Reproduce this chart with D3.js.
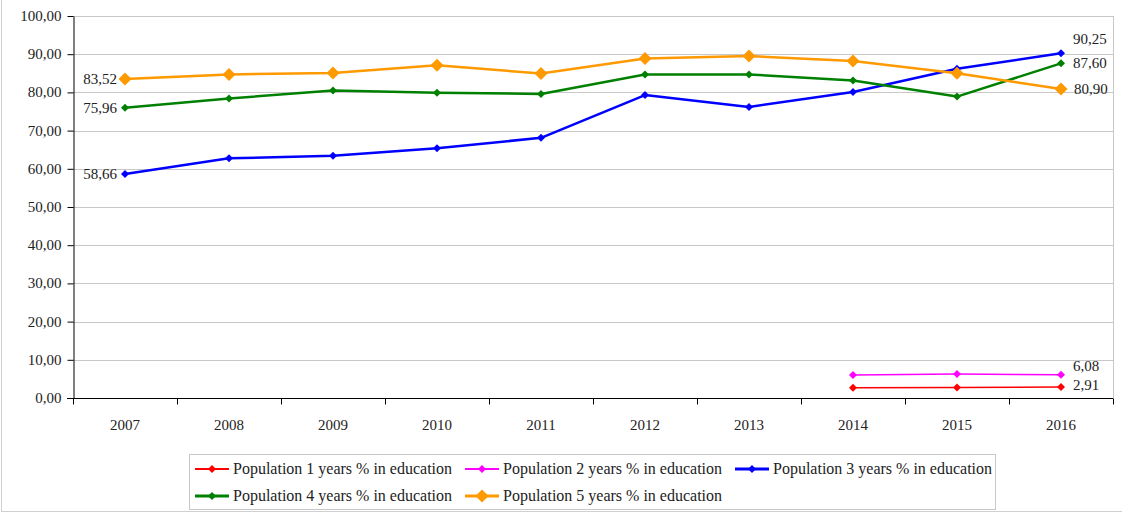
<!DOCTYPE html>
<html lang="en">
<head>
  <meta charset="UTF-8">
  <title>Population % in education</title>
  <script src="https://d3js.org/d3.v7.min.js"></script>
  <style>
    body { margin: 0; background: #fff; }
    svg text { font-family: "Liberation Serif", "Times New Roman", serif; fill: #222; }
    .grid line { stroke: #c8c8c8; stroke-width: 1; }
    .axis path, .axis line { stroke: #000; }
  </style>
</head>
<body>
  <div id="chart"></div>
  <script>
    // Years on the x axis
    const years = [2007, 2008, 2009, 2010, 2011, 2012, 2013, 2014, 2015, 2016];

    // Series values (null = no data)
    const pop1 = [null, null, null, null, null, null, null, 2.70, 2.72, 2.91];
    const pop2 = [null, null, null, null, null, null, null, 6.05, 6.30, 6.08];
    const pop3 = [58.66, 62.75, 63.40, 65.40, 68.10, 79.30, 76.20, 80.10, 86.20, 90.25];
    const pop4 = [75.96, 78.40, 80.50, 79.90, 79.60, 84.70, 84.70, 83.10, 78.90, 87.60];
    const pop5 = [83.52, 84.70, 85.05, 87.10, 84.95, 88.90, 89.50, 88.20, 85.00, 80.90];

    const seriesNames = [
      "Population 1 years % in education",
      "Population 2 years % in education",
      "Population 3 years % in education",
      "Population 4 years % in education",
      "Population 5 years % in education"
    ];
    const seriesColors = ["#ff0000", "#ff00ff", "#0000ff", "#008000", "#ff9900"];
    const seriesWidths = [1.5, 1.5, 2.5, 2.5, 2.5];
    const markerSizes = [4, 4, 4, 4, 6.5];

    const yTicks = [0, 10, 20, 30, 40, 50, 60, 70, 80, 90, 100];

    const W = 1122, H = 514;
    const plot = { left: 73, right: 1113, top: 16, bottom: 398 };

    const locale = d3.formatLocale({ decimal: ",", thousands: ".", grouping: [3], currency: ["", ""] });
    const fmt = locale.format(".2f");

    const svg = d3.select("#chart").append("svg")
      .attr("width", W).attr("height", H);

    // outer frame
    svg.append("rect")
      .attr("x", 1.5).attr("y", -2).attr("width", W + 4).attr("height", H - 0.5)
      .attr("fill", "none").attr("stroke", "#d0d0d0").attr("stroke-width", 1);

    const x = d3.scaleBand().domain(years).range([plot.left, plot.right]).padding(0);
    const cx = d => x(d) + x.bandwidth() / 2;
    const y = d3.scaleLinear().domain([0, 100]).range([plot.bottom, plot.top]);

    // horizontal gridlines
    svg.append("g").attr("class", "grid")
      .selectAll("line").data(yTicks.filter(t => t > 0)).join("line")
      .attr("x1", plot.left).attr("x2", plot.right)
      .attr("y1", d => Math.round(y(d)) + 0.5).attr("y2", d => Math.round(y(d)) + 0.5);

    // right border of plot area
    svg.append("line")
      .attr("x1", plot.right + 0.5).attr("x2", plot.right + 0.5)
      .attr("y1", plot.top).attr("y2", plot.bottom)
      .attr("stroke", "#c8c8c8");

    // y axis
    const yAxis = svg.append("g").attr("class", "axis")
      .attr("transform", `translate(${plot.left + 0.5},0)`)
      .call(d3.axisLeft(y).tickValues(yTicks).tickFormat(fmt).tickSize(6).tickSizeOuter(0));
    yAxis.selectAll("text").style("font-size", "15px").attr("x", -12).attr("dy", "0.3em");

    // x axis: labels at band centres, tick marks on band boundaries
    const xAxis = svg.append("g").attr("class", "axis")
      .attr("transform", `translate(0,${plot.bottom + 0.5})`)
      .call(d3.axisBottom(x).tickSize(0).tickSizeOuter(0));
    xAxis.select(".domain").attr("d", `M${plot.left - 6},0H${plot.right}`);
    xAxis.selectAll("text").style("font-size", "15px").attr("y", 21);
    xAxis.selectAll(".bound").data(years.map(d => x(d)).concat([plot.right]))
      .join("line").attr("class", "bound")
      .attr("x1", d => Math.round(d) + 0.5).attr("x2", d => Math.round(d) + 0.5)
      .attr("y1", 0).attr("y2", 6).attr("stroke", "#000");

    const allSeries = [pop1, pop2, pop3, pop4, pop5];

    const line = d3.line()
      .defined(d => d.v !== null)
      .x(d => cx(d.year)).y(d => y(d.v));

    const diamond = s => `M0,${-s}L${s},0L0,${s}L${-s},0Z`;

    allSeries.forEach((vals, i) => {
      const pts = years.map((yr, j) => ({ year: yr, v: vals[j] }));
      svg.append("path").datum(pts)
        .attr("fill", "none").attr("stroke", seriesColors[i])
        .attr("stroke-width", seriesWidths[i]).attr("stroke-linejoin", "round")
        .attr("d", line);
      svg.append("g").selectAll("path").data(pts.filter(d => d.v !== null)).join("path")
        .attr("transform", d => `translate(${cx(d.year)},${y(d.v)})`)
        .attr("d", diamond(markerSizes[i]))
        .attr("fill", seriesColors[i]);
    });

    // value labels: first values (left of 2007) and last values (right of 2016)
    const labels = svg.append("g").style("font-size", "15px");
    [pop3, pop4, pop5].forEach(vals => {
      labels.append("text")
        .attr("x", cx(years[0]) - 8).attr("y", y(vals[0]) + 5)
        .attr("text-anchor", "end").text(fmt(vals[0]));
    });
    const last = years.length - 1;
    const lastOffsets = [[12, 3], [12, -4], [12, -9], [12, 5], [13, 5]];
    allSeries.forEach((vals, i) => {
      labels.append("text")
        .attr("x", cx(years[last]) + lastOffsets[i][0])
        .attr("y", y(vals[last]) + lastOffsets[i][1])
        .text(fmt(vals[last]));
    });

    // legend
    const leg = svg.append("g");
    leg.append("rect")
      .attr("x", 189.5).attr("y", 454.5).attr("width", 806).attr("height", 55)
      .attr("fill", "#fff").attr("stroke", "#c8c8c8");
    seriesNames.forEach((name, i) => {
      const col = i % 3, row = Math.floor(i / 3);
      const lx = 195 + col * 270, ly = 469 + row * 27;
      const g = leg.append("g").attr("transform", `translate(${lx},${ly})`);
      g.append("line").attr("x1", 0).attr("x2", 34).attr("y1", 0).attr("y2", 0)
        .attr("stroke", seriesColors[i]).attr("stroke-width", seriesWidths[i] + 0.5);
      g.append("path").attr("transform", "translate(17,0)")
        .attr("d", diamond(markerSizes[i])).attr("fill", seriesColors[i]);
      g.append("text").attr("x", 38).attr("y", 5).style("font-size", "16px").text(name);
    });
  </script>
</body>
</html>
